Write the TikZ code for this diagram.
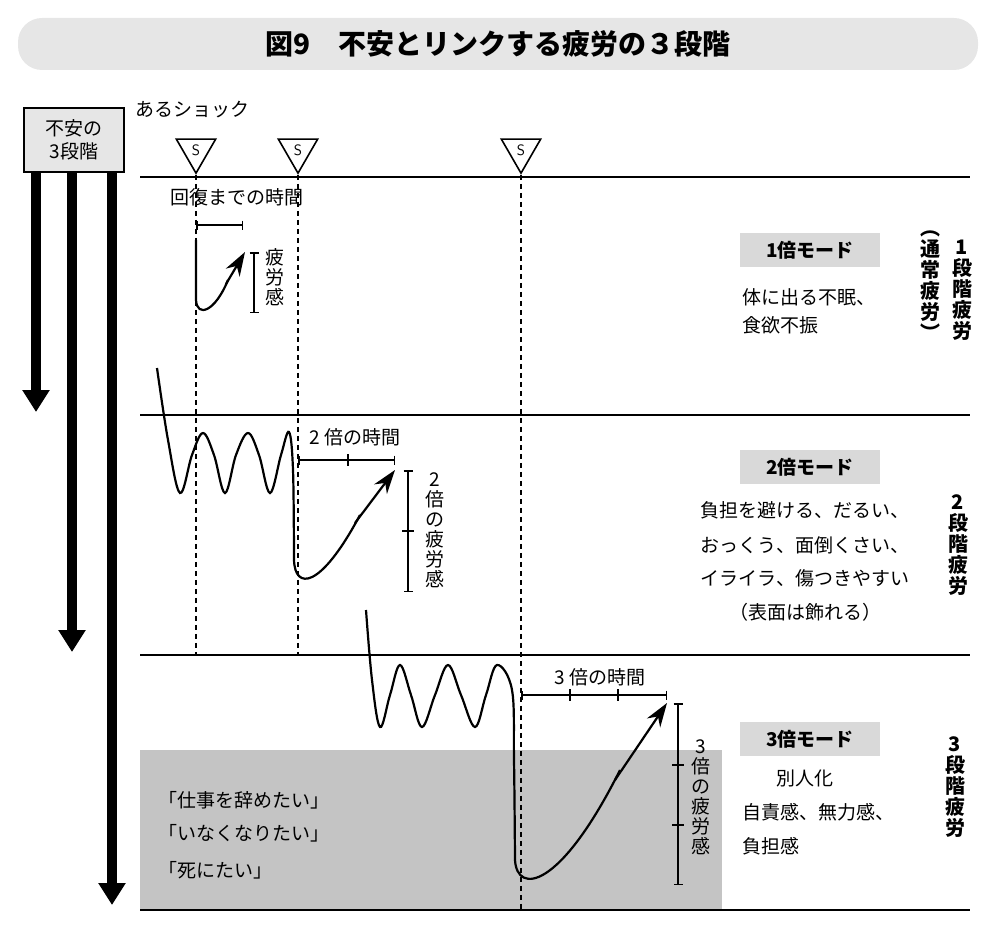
\documentclass[tikz,border=0pt]{standalone}
\usepackage{fontspec}
\setmainfont{Noto Sans CJK JP}
\usetikzlibrary{arrows.meta,shapes.geometric}
\definecolor{bannerg}{HTML}{E6E6E6}
\definecolor{modeg}{HTML}{D9D9D9}
\definecolor{areag}{HTML}{C4C4C4}
\tikzset{
 txt/.style={font=\fontsize{19}{22}\selectfont, inner sep=0pt},
 vtxt/.style={font=\fontsize{19}{20}\selectfont, align=center, inner sep=0pt},
 vbold/.style={font=\fontsize{20}{21}\selectfont\bfseries, align=center, inner sep=0pt},
 modebox/.style={fill=modeg, minimum width=140pt, minimum height=34pt, font=\fontsize{19}{22}\selectfont\bfseries, inner sep=0pt},
 bigarrow/.style={line width=10pt, -{Triangle[width=26pt,length=22pt]}},
 hline/.style={line width=1.2pt},
 dashv/.style={line width=1.3pt, dash pattern=on 5pt off 4pt},
 curve/.style={line width=2.2pt},
 arr/.style={curve, -{Stealth[length=24pt,width=16pt]}},
 brk/.style={line width=1.5pt, |-|},
 shock/.style={draw, line width=1.6pt, isosceles triangle, isosceles triangle apex angle=60, shape border rotate=-90, minimum height=34pt, inner sep=0pt, font=\fontsize{15}{15}\selectfont\sffamily},
}
\begin{document}
\begin{tikzpicture}[x=1pt,y=-1pt]
\useasboundingbox (0,0) rectangle (1000,928);
% title
\node[fill=bannerg, rounded corners=24pt, minimum width=960pt, minimum height=52pt, font=\fontsize{28}{30}\selectfont\bfseries] (title) at (498,44) {図9\quad 不安とリンクする疲労の３段階};
% gray area
\fill[areag] (140,750) rectangle (722,910);
% stage box and arrows
\node[draw, line width=1.5pt, fill=bannerg, minimum width=100pt, minimum height=64pt, align=center, font=\fontsize{19}{23}\selectfont] (stage) at (74,140) {不安の\\3段階};
\coordinate (a1) at (36,412); \coordinate (a2) at (72,652); \coordinate (a3) at (112,905);
\draw[bigarrow] (36,172) -- (a1);
\draw[bigarrow] (72,172) -- (a2);
\draw[bigarrow] (112,172) -- (a3);
% horizontal lines
\draw[hline] (140,177) -- (970,177);
\draw[hline] (140,415) -- (970,415);
\draw[hline] (140,655) -- (970,655);
\draw[hline] (140,910) -- (970,910);
% shocks
\node[txt, anchor=west] (shocklbl) at (135,110) {あるショック};
\node[shock] (s1) at (196,150) {S};
\node[shock] (s2) at (298,150) {S};
\node[shock] (s3) at (521,150) {S};
\draw[dashv] (s1.apex) -- (196,655);
\draw[dashv] (s2.apex) -- (298,655);
\draw[dashv] (s3.apex) -- (521,910);
% stage 1
\node[txt] (rec) at (237,197) {回復までの時間};
\draw[brk] (196,225) -- (243,225);
\draw[curve] (196,240) -- (196,300) .. controls (197,318) and (215,312) .. (228,280);
\draw[arr] (226,284) -- (245,252);
\draw[brk] (254,252) -- (254,313);
\node[vtxt] (f1) at (275,277) {疲\\労\\感};
\node[modebox] (m1) at (810,250) {1倍モード};
\node[txt, anchor=west] (t1a) at (742,297) {体に出る不眠、};
\node[txt, anchor=west] (t1b) at (742,325) {食欲不振};
\node[vbold] (r1) at (962,290) {1\\段\\階\\疲\\労};
\node[vbold] (r1b) at (930,286) {︵\\通\\常\\疲\\労\\︶};
% stage 2
\draw[curve] plot[smooth, tension=0.6] coordinates {(157,368) (168,440) (180,493) (192,455) (203,433) (214,455) (225,493) (236,455) (248,433) (259,455) (270,493) (281,455) (289,432) (293,470) (294,560)};
\draw[curve] (294,560) .. controls (295,590) and (320,590) .. (360,515);
\draw[arr] (355,523) -- (395,470);
\node[txt] (t2) at (355,437) {2 倍の時間};
\draw[brk] (298,460) -- (395,460);
\draw[line width=1.5pt] (348,454) -- (348,466);
\draw[brk] (408,470) -- (408,592);
\draw[line width=1.5pt] (402,531) -- (414,531);
\node[vtxt] (f2) at (435,530) {2\\倍\\の\\疲\\労\\感};
\node[modebox] (m2) at (810,467) {2倍モード};
\node[txt] (t2a) at (805,510) {負担を避ける、だるい、};
\node[txt] (t2b) at (805,545) {おっくう、面倒くさい、};
\node[txt] (t2c) at (805,578) {イライラ、傷つきやすい};
\node[txt] (t2d) at (805,612) {（表面は飾れる）};
\node[vbold] (r2) at (958,545) {2\\段\\階\\疲\\労};
% stage 3
\draw[curve] plot[smooth, tension=0.6] coordinates {(366,610) (372,680) (380,727) (390,695) (400,665) (411,695) (422,727) (435,695) (448,665) (461,695) (475,727) (486,695) (497,665) (512,690) (514,760) (515,860)};
\draw[curve] (515,860) .. controls (517,895) and (560,890) .. (620,770);
\draw[arr] (615,780) -- (667,703);
\node[txt] (t3) at (600,677) {3 倍の時間};
\draw[brk] (521,695) -- (667,695);
\draw[line width=1.5pt] (570,689) -- (570,701);
\draw[line width=1.5pt] (618,689) -- (618,701);
\draw[brk] (678,703) -- (678,885);
\draw[line width=1.5pt] (672,765) -- (684,765);
\draw[line width=1.5pt] (672,825) -- (684,825);
\node[vtxt] (f3) at (701,797) {3\\倍\\の\\疲\\労\\感};
\node[modebox] (m3) at (810,739) {3倍モード};
\node[txt] (t3a) at (805,778) {別人化};
\node[txt, anchor=west] (t3b) at (742,812) {自責感、無力感、};
\node[txt, anchor=west] (t3c) at (742,846) {負担感};
\node[vbold] (r3) at (955,787) {3\\段\\階\\疲\\労};
\node[txt, anchor=west] (q1) at (158,800) {「仕事を辞めたい」};
\node[txt, anchor=west] (q2) at (158,833) {「いなくなりたい」};
\node[txt, anchor=west] (q3) at (158,870) {「死にたい」};
\end{tikzpicture}
\end{document}
